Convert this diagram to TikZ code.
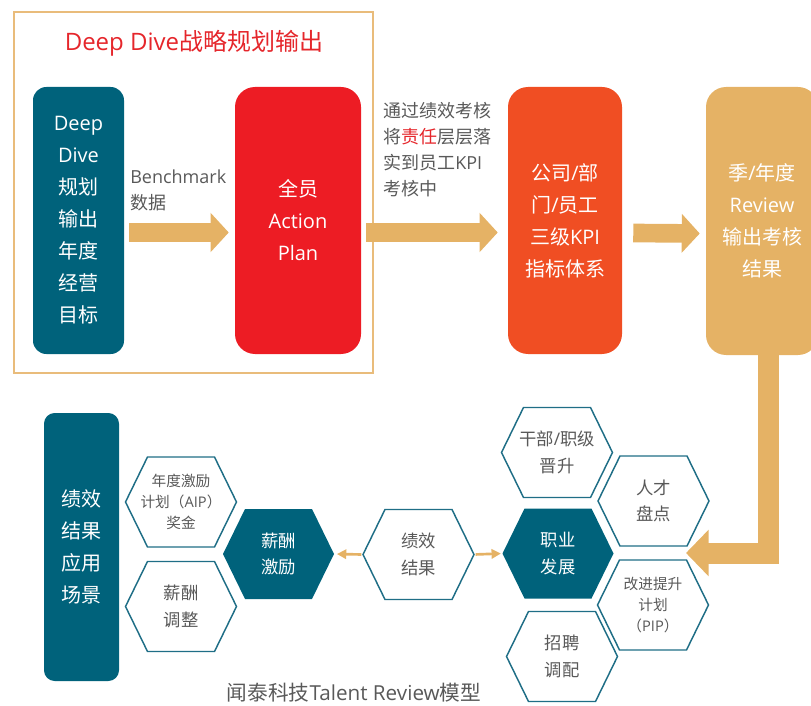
\documentclass[tikz,border=0pt]{standalone}
\usepackage{fontspec}
\setmainfont{Noto Sans CJK SC}
\newfontfamily\os{Open Sans}
\usetikzlibrary{arrows.meta,calc}
\definecolor{tealA}{HTML}{00627B}
\definecolor{redA}{HTML}{ED1C24}
\definecolor{orgA}{HTML}{F04E23}
\definecolor{tanA}{HTML}{E5B265}
\definecolor{grayA}{HTML}{595959}
\definecolor{hexA}{HTML}{1F6E86}
\definecolor{titleA}{HTML}{E5262B}
\definecolor{frameA}{HTML}{E9BC7B}
\newcommand\hexat[5]{% name, position, path style, node style, text
  \path[#3] ($#2+(-55.5,0)$) -- ++(22,-45) -- ++(67,0) -- ++(22,45) -- ++(-22,45) -- ++(-67,0) -- cycle;
  \node[hexbox,#4] (#1) at #2 {#5};}
\tikzset{
  x=0.75pt, y=-0.75pt,
  bigbox/.style={inner sep=0, align=center, text=white, font=\fontsize{15}{24}\selectfont},
  hexbox/.style={inner sep=0, minimum width=83.25pt, minimum height=67.5pt, align=center},
  hexo/.style={draw=hexA, line width=1.1pt, fill=white, line join=miter},
  hexf/.style={fill=tealA},
  hextxt/.style={text=grayA, font=\fontsize{13}{20}\selectfont},
  hextxtw/.style={text=white, font=\fontsize{13}{20}\selectfont},
  hexsmall/.style={text=grayA, font=\fontsize{11}{16}\selectfont},
  bigarrow/.style={draw=tanA, line width=14pt, -{Triangle[length=13.5pt,width=28.5pt]}},
  smallarrow/.style={draw=tanA, line width=2pt, -{Triangle[length=7pt,width=7pt]}},
  note/.style={inner sep=0, text=grayA, align=left, anchor=west, font=\fontsize{13.5}{19.5}\selectfont}
}
\begin{document}
\begin{tikzpicture}
\useasboundingbox (0,0) rectangle (811,706);
% frame and title
\draw[frameA, line width=1.5pt] (14,12) rectangle (373,373);
\node[text=titleA, font=\fontsize{18}{20}\selectfont, inner sep=0] (title) at (194,43) {{\os Deep Dive}战略规划输出};
% top row boxes
\node[bigbox, fill=tealA, minimum width=68.25pt, minimum height=200.25pt, rounded corners=10pt] (dd) at (78.5,220.5)
  {{\os Deep}\\{\os Dive}\\规划\\输出\\年度\\经营\\目标};
\node[bigbox, fill=redA, minimum width=94.5pt, minimum height=200.25pt, rounded corners=15pt] (ap) at (298,220.5)
  {全员\\{\os Action}\\{\os Plan}};
\node[bigbox, fill=orgA, minimum width=85.5pt, minimum height=200.25pt, rounded corners=15pt] (kpi) at (565,220.5)
  {公司{\os /}部\\门{\os /}员工\\三级{\os KPI}\\指标体系};
\node[bigbox, fill=tanA, minimum width=84pt, minimum height=201pt, rounded corners=15pt] (rv) at (762,221)
  {季{\os /}年度\\{\os Review}\\输出考核\\结果};
% notes
\node[note] (bm) at (130,190) {{\os Benchmark}\\数据};
\node[note] (tg) at (383,150) {通过绩效考核\\将\textcolor{titleA}{责任}层层落\\实到员工{\os KPI}\\考核中};
% big arrows
\draw[bigarrow] ($(dd.east)+(5,12)$) -- ($(ap.west)+(-6,12)$);
\draw[bigarrow] ($(ap.east)+(5,12)$) -- ($(kpi.west)+(-10,12)$);
\draw[bigarrow] ($(kpi.east)+(11,12.5)$) -- ($(rv.west)+(-6,12.5)$);
\coordinate (ltip) at (686,553);
\draw[bigarrow, line width=15.75pt, line join=miter, -{Triangle[length=17pt,width=34pt]}] ($(rv.south)+(6.5,-2)$) |- (ltip);
% bottom-left box
\node[bigbox, fill=tealA, minimum width=56.25pt, minimum height=201pt, rounded corners=8pt] (app) at (81.5,547)
  {绩效\\结果\\应用\\场景};
% hexagons
\hexat{aip}{(181,502)}{hexo}{hexsmall}{年度激励\\计划（{\os AIP}）\\奖金}
\hexat{tz}{(181,606.5)}{hexo}{hextxt}{薪酬\\调整}
\hexat{xc}{(278.5,554)}{hexf}{hextxtw}{薪酬\\激励}
\hexat{jx}{(418.5,554.5)}{hexo}{hextxt}{绩效\\结果}
\hexat{zy}{(558,553.5)}{hexf}{hextxtw}{职业\\发展}
\hexat{gb}{(557,452.5)}{hexo}{hextxt}{干部{\os /}职级\\晋升}
\hexat{rc}{(653.5,501)}{hexo}{hextxt}{人才\\盘点}
\hexat{pip}{(653,605)}{hexo}{hexsmall}{改进提升\\计划\\（{\os PIP}）}
\hexat{zp}{(562,656.5)}{hexo}{hextxt}{招聘\\调配}
% small arrows
\draw[smallarrow, shorten <=1pt, shorten >=2pt] (jx.west) -- (xc.east);
\draw[smallarrow, shorten <=1pt, shorten >=1pt] (jx.east) -- (zy.west);
% caption
\node[text=grayA, font=\fontsize{15.5}{18}\selectfont, inner sep=0] (cap) at (354,693) {闻泰科技{\os Talent Review}模型};
\end{tikzpicture}
\end{document}
